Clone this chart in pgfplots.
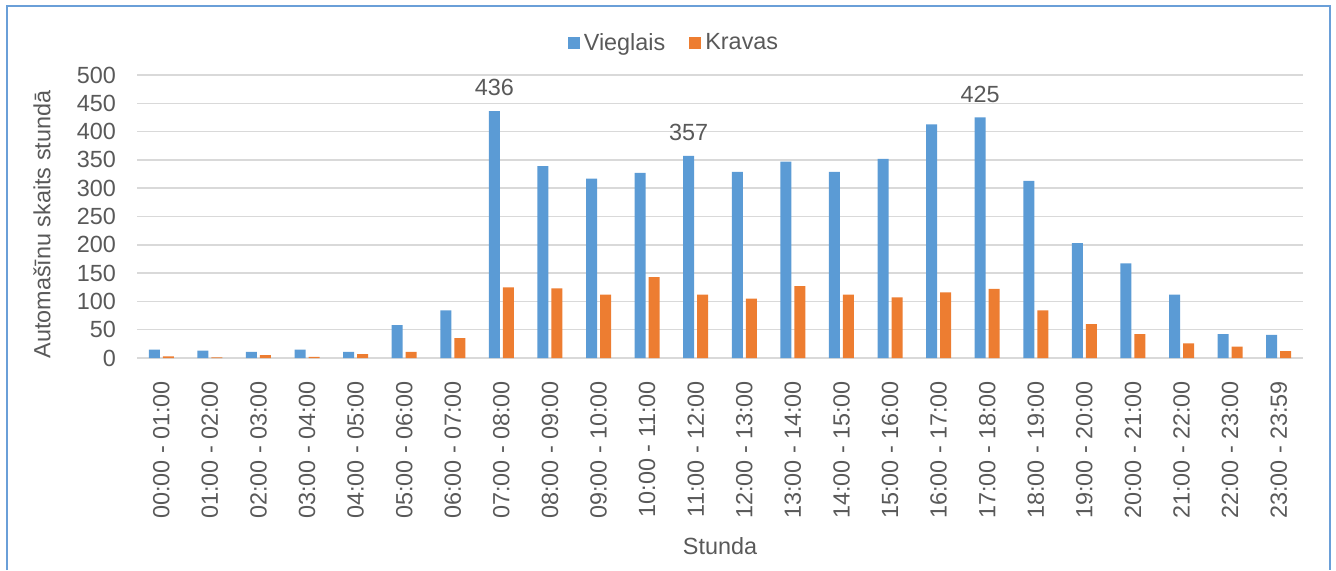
\documentclass[border=0pt]{standalone}
\usepackage{pgfplots}
\pgfplotsset{compat=1.18}
\usepackage{pgfplotstable}
\usepackage{fontspec}
\setmainfont{Liberation Sans}
\definecolor{cblue}{HTML}{5B9BD5}
\definecolor{corange}{HTML}{ED7D31}
\definecolor{cgrid}{HTML}{D9D9D9}
\definecolor{ctext}{HTML}{595959}
\definecolor{cframe}{HTML}{6A9FD8}
\newcommand\cf{\fontsize{11.7}{14}\selectfont}
\pgfplotstableread{
x v k
0 15 3
1 13 1
2 11 5
3 15 2
4 11 7
5 58 11
6 84 35
7 436 125
8 339 123
9 317 112
10 327 143
11 357 112
12 329 105
13 347 127
14 329 112
15 352 107
16 413 116
17 425 122
18 313 84
19 203 60
20 167 42
21 112 26
22 42 20
23 41 12
}\data
\begin{document}
\begin{tikzpicture}
\useasboundingbox (0,0) rectangle (668pt,285pt);
\begin{axis}[
  at={(68.5pt,106pt)}, anchor=south west,
  scale only axis, width=583pt, height=141.5pt,
  ybar, bar width=5.5pt,
  xmin=-0.5, xmax=23.5, ymin=0, ymax=500,
  ytick={0,50,...,500},
  xtick={0,...,23},
  xticklabels={00:00 - 01:00,01:00 - 02:00,02:00 - 03:00,03:00 - 04:00,04:00 - 05:00,05:00 - 06:00,06:00 - 07:00,07:00 - 08:00,08:00 - 09:00,09:00 - 10:00,10:00 - 11:00,11:00 - 12:00,12:00 - 13:00,13:00 - 14:00,14:00 - 15:00,15:00 - 16:00,16:00 - 17:00,17:00 - 18:00,18:00 - 19:00,19:00 - 20:00,20:00 - 21:00,21:00 - 22:00,22:00 - 23:00,23:00 - 23:59},
  x tick label style={rotate=90, anchor=east},
  xticklabel shift=8pt,
  yticklabel shift=7pt,
  major tick length=0pt,
  axis line style={draw=none},
  ymajorgrids, grid style={cgrid, line width=0.75pt},
  tick label style={font=\cf, text=ctext},
  /pgf/number format/assume math mode=true,
  xlabel={Stunda}, ylabel={Automašīnu skaits stundā},
  label style={font=\cf, text=ctext},
  xlabel style={at={(axis description cs:0.5,-0.664)}, anchor=center},
  ylabel style={at={(axis description cs:-0.0815,0.4717)}, anchor=center},
  legend columns=2,
  legend style={at={(axis description cs:0.4614,1.113)}, anchor=center, draw=none, fill=none, font=\cf, text=ctext,
    /tikz/every even column/.append style={column sep=10pt}},
  sqleg/.style={legend image code/.code={\fill[##1] (0pt,-3pt) rectangle (6pt,3pt);}},
]
\addplot[fill=cblue, draw=none, bar shift=-3.5pt, sqleg] table[x=x,y=v]{\data};
\addplot[fill=corange, draw=none, bar shift=3.5pt, sqleg] table[x=x,y=k]{\data};
\addplot[draw=none, fill=none, bar shift=-3.5pt, forget plot, nodes near coords,
  every node near coord/.append style={font=\cf, text=ctext, yshift=4pt}]
  coordinates {(7,436) (11,357) (17,425)};
\legend{Vieglais, Kravas}
\end{axis}
\draw[cframe, line width=0.75pt] (3.5pt,0) -- (3.5pt,282pt) -- (665pt,282pt) -- (665pt,0);
\end{tikzpicture}
\end{document}
